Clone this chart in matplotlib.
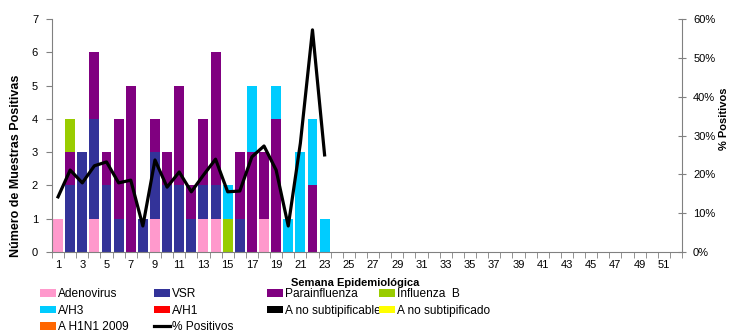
import matplotlib.pyplot as plt
from matplotlib.patches import Patch
from matplotlib.lines import Line2D

plt.rcParams['font.family'] = ['Liberation Sans', 'DejaVu Sans']

# weeks with data (1..23), x axis runs over 52 weeks
weeks = list(range(1, 24))
adenovirus = [1, 0, 0, 1, 0, 0, 0, 0, 1, 0, 0, 0, 1, 1, 0, 0, 0, 1, 0, 0, 0, 0, 0]
vsr = [0, 2, 3, 3, 2, 1, 0, 1, 2, 2, 2, 1, 1, 1, 0, 1, 0, 0, 0, 0, 0, 0, 0]
parainfluenza = [0, 1, 0, 2, 1, 3, 5, 0, 1, 1, 3, 1, 2, 4, 0, 2, 3, 2, 4, 0, 0, 2, 0]
influenza_b = [0, 1, 0, 0, 0, 0, 0, 0, 0, 0, 0, 0, 0, 0, 1, 0, 0, 0, 0, 0, 0, 0, 0]
a_h3 = [0, 0, 0, 0, 0, 0, 0, 0, 0, 0, 0, 0, 0, 0, 1, 0, 2, 0, 1, 1, 3, 2, 1]
a_h1 = [0] * 23
a_no_subtipificable = [0] * 23
a_no_subtipificado = [0] * 23
a_h1n1_2009 = [0] * 23
pct_positivos = [14.2, 21.1, 17.8, 22.2, 23.2, 17.8, 18.5, 6.7, 23.7, 16.7, 20.6, 15.5,
                 19.8, 23.9, 15.5, 15.7, 24.5, 27.3, 21.1, 6.7, 28.0, 57.2, 25.0]

series = [
    ("Adenovirus", adenovirus, "#FF99CC"),
    ("VSR", vsr, "#333399"),
    ("Parainfluenza", parainfluenza, "#800080"),
    ("Influenza  B", influenza_b, "#99CC00"),
    ("A/H3", a_h3, "#00CCFF"),
    ("A/H1", a_h1, "#FF0000"),
    ("A no subtipificable", a_no_subtipificable, "#000000"),
    ("A no subtipificado", a_no_subtipificado, "#FFFF00"),
    ("A H1N1 2009", a_h1n1_2009, "#FF6600"),
]

fig = plt.figure(figsize=(7.29, 3.36), dpi=100)
ax = fig.add_axes([52 / 729, 1 - 252 / 336, 630 / 729, 233 / 336])

bottom = [0] * len(weeks)
handles = {}
for name, vals, col in series:
    ax.bar(weeks, vals, width=0.82, bottom=bottom, color=col, linewidth=0)
    bottom = [b + v for b, v in zip(bottom, vals)]
    handles[name] = Patch(facecolor=col, edgecolor='none')

ax.set_xlim(0.5, 52.5)
ax.set_ylim(0, 7)
ax.set_yticks(range(0, 8))
ax.set_xticks(range(1, 53, 2))
ax.set_xticks([w + 0.5 for w in range(0, 53)], minor=True)
ax.tick_params(axis='x', which='major', length=0, labelsize=8, pad=6)
ax.tick_params(axis='x', which='minor', length=4, color='#808080')
ax.tick_params(axis='y', length=4, color='#808080', labelsize=8, pad=6)
for s in ['top', 'right']:
    ax.spines[s].set_visible(False)
for s in ['left', 'bottom']:
    ax.spines[s].set_color('#808080')

ax.set_ylabel("Número de Muestras Positivas", fontsize=9, fontweight='bold')
ax.yaxis.set_label_coords(-0.048, 0.37)
ax.set_xlabel("Semana Epidemiológica", fontsize=8, fontweight='bold')
ax.xaxis.set_label_coords(0.481, -0.11)

ax2 = ax.twinx()
ax2.plot(weeks, pct_positivos, color='black', linewidth=2.3)
ax2.set_ylim(0, 60)
ax2.set_yticks(range(0, 61, 10))
ax2.set_yticklabels([f"{v}%" for v in range(0, 61, 10)])
ax2.tick_params(axis='y', direction='inout', length=6, color='#808080', labelsize=8, pad=5)
for s in ['top', 'left', 'bottom']:
    ax2.spines[s].set_visible(False)
ax2.spines['right'].set_color('#808080')
ax2.set_ylabel("% Positivos", fontsize=8, fontweight='bold')
ax2.yaxis.set_label_coords(1.059, 0.57)
handles["% Positivos"] = Line2D([], [], color='black', linewidth=2.3)

# legend: four fixed-width columns like the original
columns = [
    ["Adenovirus", "A/H3", "A H1N1 2009"],
    ["VSR", "A/H1", "% Positivos"],
    ["Parainfluenza", "A no subtipificable"],
    ["Influenza  B", "A no subtipificado"],
]
col_x = [40, 154, 267, 379]
for x, names in zip(col_x, columns):
    fig.legend([handles[n] for n in names], names, loc='upper left',
               bbox_to_anchor=(x / 729, 1 - 288 / 336), frameon=False,
               fontsize=8.6, handlelength=1.35, handleheight=0.6,
               handletextpad=0.15, labelspacing=0.38, borderpad=0,
               borderaxespad=0)

fig.savefig("out.png", dpi=100)
